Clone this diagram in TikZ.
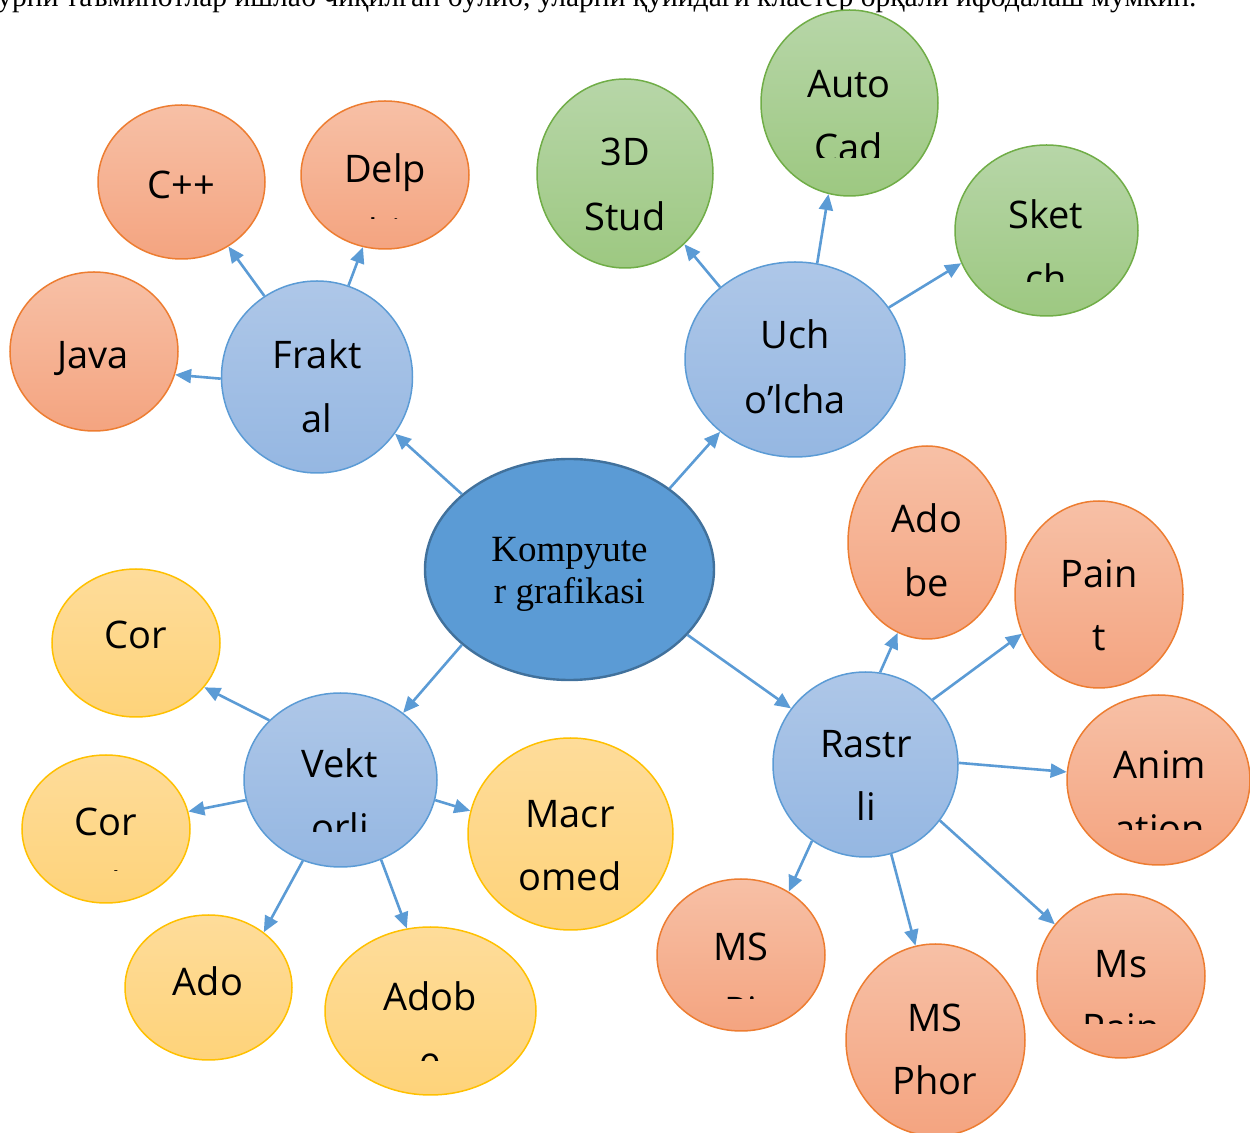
\documentclass[tikz,border=0pt]{standalone}
\usepackage{fontspec}
\setmainfont{Liberation Serif}
\newfontfamily\lblfont{Open Sans}
\usetikzlibrary{shapes.geometric,arrows.meta}
\definecolor{cBlue}{RGB}{91,155,213}
\definecolor{cBlueB}{RGB}{65,113,156}
\definecolor{lbTop}{RGB}{174,199,232}
\definecolor{lbBot}{RGB}{149,183,226}
\definecolor{orTop}{RGB}{247,192,166}
\definecolor{orBot}{RGB}{244,164,128}
\definecolor{orB}{RGB}{237,125,49}
\definecolor{grTop}{RGB}{183,214,168}
\definecolor{grBot}{RGB}{157,200,129}
\definecolor{grB}{RGB}{112,173,71}
\definecolor{ylTop}{RGB}{254,220,154}
\definecolor{ylBot}{RGB}{254,211,122}
\definecolor{ylB}{RGB}{255,192,0}
\tikzset{
  ell/.style={ellipse, inner sep=0pt, line width=0.75pt},
  sz/.style 2 args={minimum width=#1*0.5pt, minimum height=#2*0.5pt},
  lb/.style={ell, draw=cBlue, top color=lbTop, bottom color=lbBot},
  org/.style={ell, draw=orB, top color=orTop, bottom color=orBot},
  grn/.style={ell, draw=grB, top color=grTop, bottom color=grBot},
  ylw/.style={ell, draw=ylB, top color=ylTop, bottom color=ylBot},
  conn/.style={draw=cBlue, line width=1.3pt, -{Triangle[length=8pt,width=7pt]}},
  lbl/.style={font=\lblfont\fontsize{19}{19}\selectfont, anchor=base, inner sep=0pt},
}
\begin{document}
\begin{tikzpicture}[x=0.5pt,y=-0.5pt]
\useasboundingbox (0,0) rectangle (1250,1133);
% top cut-off text line
\begin{scope}
\clip (0,0) rectangle (1250,40);
\node[anchor=base west, inner sep=0pt, font=\fontsize{14.78}{15}\selectfont] (topline) at (-3,7) {урни таъминотлар ишлаб чиқилган бўлиб, уларни қуйидаги кластер орқали ифодалаш мумкин.};
\end{scope}
% ellipses
\node[ell, draw=cBlueB, line width=1.2pt, fill=cBlue, sz={289}{221}] (K) at (569.5,569.5) {};
\node[lb, sz={191}{192}] (frakt) at (317,377) {};
\node[lb, sz={220}{195}] (uch) at (795,359.5) {};
\node[lb, sz={193}{174}] (vekt) at (340.5,780) {};
\node[lb, sz={185}{185}] (rastr) at (865.5,764.5) {};
\node[org, sz={167}{154}] (cpp) at (181.5,182) {};
\node[org, sz={168}{148}] (delp) at (385,175) {};
\node[org, sz={168}{159}] (java) at (94,351.5) {};
\node[grn, sz={176}{189}] (std) at (625,173.5) {};
\node[grn, sz={177}{186}] (auto) at (849.5,103) {};
\node[grn, sz={183}{171}] (sket) at (1046.5,230.5) {};
\node[ylw, sz={168}{148}] (corA) at (136,643) {};
\node[ylw, sz={168}{148}] (corB) at (106,829) {};
\node[ylw, sz={205}{192}] (macr) at (570.5,834) {};
\node[ylw, sz={167}{145}] (ado) at (208.5,987.5) {};
\node[ylw, sz={211}{168}] (adob) at (430.5,1011) {};
\node[org, sz={158}{193}] (adobe) at (927,542.5) {};
\node[org, sz={168}{187}] (paint) at (1099,594.5) {};
\node[org, sz={183}{170}] (anim) at (1158.5,780) {};
\node[org, sz={168}{152}] (mspi) at (741,955) {};
\node[org, sz={179}{192}] (msphor) at (935.5,1040) {};
\node[org, sz={168}{164}] (mspain) at (1121,976) {};
% connectors
\draw[conn] (K.145) -- (frakt.324);
\draw[conn] (K.39) -- (uch.224);
\draw[conn] (K.215) -- (vekt.47);
\draw[conn] (K.331) -- (rastr.143);
\draw[conn] (frakt.123) -- (cpp.306);
\draw[conn] (frakt.71) -- (delp.253);
\draw[conn] (frakt.181) -- (java.344);
\draw[conn] (uch.136) -- (std.310);
\draw[conn] (uch.77) -- (auto.257);
\draw[conn] (uch.29) -- (sket.201);
\draw[conn] (vekt.140) -- (corA.327);
\draw[conn] (vekt.192) -- (corB.12);
\draw[conn] (vekt.348) -- (macr.167);
\draw[conn] (vekt.245) -- (ado.45);
\draw[conn] (vekt.297) -- (adob.106);
\draw[conn] (rastr.81) -- (adobe.252);
\draw[conn] (rastr.44) -- (paint.207);
\draw[conn] (rastr.1.5) -- (anim.175);
\draw[conn] (rastr.235) -- (mspi.53);
\draw[conn] (rastr.286) -- (msphor.102);
\draw[conn] (rastr.323) -- (mspain.142);
% centre text
\node[anchor=base, inner sep=0pt, font=\fontsize{18.5}{18.5}\selectfont] (Ka) at (569.5,562) {Kompyute};
\node[anchor=base, inner sep=0pt, font=\fontsize{18.5}{18.5}\selectfont] (Kb) at (569.5,604) {r grafikasi};
% labels
\node[lbl] (cppA) at (181,199) {C++};
\begin{scope}\clip (250,100) rectangle (520,219);
\node[lbl] (delpA) at (385,183) {Delp};
\node[lbl] (delpB) at (385,247) {hi};
\end{scope}
\node[lbl] (javaA) at (93,369) {Java};
\node[lbl] (fraktA) at (317,369) {Frakt};
\node[lbl] (fraktB) at (317,433) {al};
\node[lbl] (stdA) at (625,166) {3D};
\node[lbl] (stdB) at (625,231) {Stud};
\begin{scope}\clip (720,20) rectangle (980,158);
\node[lbl] (autoA) at (849,98) {Auto};
\node[lbl] (autoB) at (849,162) {Cad};
\end{scope}
\begin{scope}\clip (920,150) rectangle (1180,282);
\node[lbl] (sketA) at (1046,229) {Sket};
\node[lbl] (sketB) at (1046,293) {ch};
\end{scope}
\node[lbl] (uchA) at (795,349) {Uch};
\node[lbl] (uchB) at (795,414) {o’lcha};
\begin{scope}\clip (210,700) rectangle (470,832);
\node[lbl] (vektA) at (340,778) {Vekt};
\node[lbl] (vektB) at (340,842) {orli};
\end{scope}
\node[lbl] (corAA) at (136,649) {Cor};
\begin{scope}\clip (0,760) rectangle (230,871);
\node[lbl] (corBA) at (106,836) {Cor};
\node[lbl] (corBB) at (106,900) {el};
\end{scope}
\node[lbl] (macrA) at (570,828) {Macr};
\node[lbl] (macrB) at (570,891) {omed};
\node[lbl] (adoA) at (208,996) {Ado};
\begin{scope}\clip (300,930) rectangle (560,1061);
\node[lbl] (adobA) at (430,1011) {Adob};
\node[lbl] (adobB) at (430,1075) {e};
\end{scope}
\node[lbl] (adobeA) at (927,533) {Ado};
\node[lbl] (adobeB) at (927,597) {be};
\node[lbl] (paintA) at (1099,588) {Pain};
\node[lbl] (paintB) at (1099,651) {t};
\node[lbl] (rastrA) at (866,758) {Rastr};
\node[lbl] (rastrB) at (866,821) {li};
\begin{scope}\clip (1030,700) rectangle (1250,830);
\node[lbl] (animA) at (1160,779) {Anim};
\node[lbl] (animB) at (1160,843) {ation};
\end{scope}
\begin{scope}\clip (620,880) rectangle (860,999);
\node[lbl] (mspiA) at (741,961) {MS};
\node[lbl] (mspiB) at (741,1025) {Pi};
\end{scope}
\node[lbl] (msphorA) at (935,1032) {MS};
\node[lbl] (msphorB) at (935,1095) {Phor};
\begin{scope}\clip (1000,900) rectangle (1240,1024);
\node[lbl] (mspainA) at (1121,978) {Ms};
\node[lbl] (mspainB) at (1121,1042) {Pain};
\end{scope}
\end{tikzpicture}
\end{document}
